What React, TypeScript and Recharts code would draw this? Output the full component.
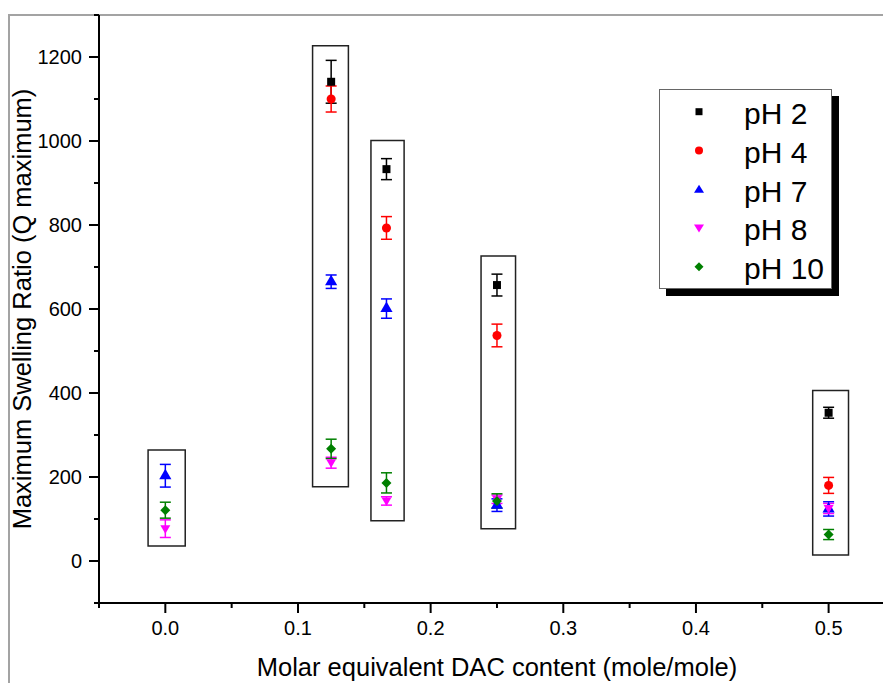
import React from 'react';
import { ScatterChart, Scatter, XAxis, YAxis, ZAxis, ErrorBar, ReferenceArea, Legend, Label } from 'recharts';

// DAC content (mole/mole) for each group of measurements
const xFull = [0, 0.125, 0.1667, 0.25, 0.5];
const xNoZero = [0.125, 0.1667, 0.25, 0.5];

const ph2Values = [1141, 933, 657, 353];
const ph2Errors = [51, 25, 26, 13];
const ph4Values = [1100, 793, 537, 180];
const ph4Errors = [31, 27, 27, 19];
const ph7Values = [203, 665, 601, 133, 124];
const ph7Errors = [27, 16, 23, 15, 17];
const ph8Values = [77, 234, 143, 147, 125];
const ph8Errors = [21, 13, 10, 10, 12];
const ph10Values = [121, 267, 186, 143, 63];
const ph10Errors = [19, 23, 24, 17, 12];

// boxes drawn round each group
const boxX1 = [-0.013, 0.111, 0.155, 0.238, 0.488];
const boxX2 = [0.015, 0.138, 0.18, 0.264, 0.515];
const boxY1 = [36, 177, 96, 77, 14];
const boxY2 = [264, 1227, 1001, 726, 406];

const xTicks = [-0.05, 0, 0.05, 0.1, 0.15, 0.2, 0.25, 0.3, 0.35, 0.4, 0.45, 0.5];
const yTicks = [-100, 0, 100, 200, 300, 400, 500, 600, 700, 800, 900, 1000, 1100, 1200, 1300];

const FONT = '"Liberation Sans", Arial, sans-serif';

const toRows = (xs: number[], ys: number[], errs: number[]) =>
  xs.map((x, i) => ({ x, y: ys[i], err: errs[i] }));

const downTriangle = (props: any) => {
  const { cx, cy, fill } = props;
  return <path d={`M${cx - 5},${cy - 3.5}L${cx + 5},${cy - 3.5}L${cx},${cy + 5}Z`} fill={fill} />;
};

const diamond = (props: any) => {
  const { cx, cy, fill } = props;
  return <path d={`M${cx},${cy - 5}L${cx + 5},${cy}L${cx},${cy + 5}L${cx - 5},${cy}Z`} fill={fill} />;
};

const series = [
  { name: 'pH 2', color: '#000000', shape: 'square', data: toRows(xNoZero, ph2Values, ph2Errors) },
  { name: 'pH 4', color: '#ff0000', shape: 'circle', data: toRows(xNoZero, ph4Values, ph4Errors) },
  { name: 'pH 7', color: '#0000ff', shape: 'triangle', data: toRows(xFull, ph7Values, ph7Errors) },
  { name: 'pH 8', color: '#ff00ff', shape: downTriangle, data: toRows(xFull, ph8Values, ph8Errors) },
  { name: 'pH 10', color: '#008000', shape: diamond, data: toRows(xFull, ph10Values, ph10Errors) },
];

const XTick = (props: any) => {
  const { x, y, payload } = props;
  const v = payload.value;
  const major = Math.abs(v * 10 - Math.round(v * 10)) < 1e-6;
  return (
    <g>
      <line x1={x} x2={x} y1={y} y2={y + (major ? 10 : 5)} stroke="#000" strokeWidth={2} />
      {major && (
        <text x={x} y={y + 32} textAnchor="middle" fontSize={20} fontFamily={FONT} fill="#000" stroke="none">
          {v.toFixed(1)}
        </text>
      )}
    </g>
  );
};

const YTick = (props: any) => {
  const { x, y, payload } = props;
  const v = payload.value;
  const major = v % 200 === 0;
  return (
    <g>
      <line x1={x} x2={x - (major ? 10 : 5)} y1={y} y2={y} stroke="#000" strokeWidth={2} />
      {major && (
        <text x={x - 17} y={y + 7} textAnchor="end" fontSize={20} fontFamily={FONT} fill="#000" stroke="none">
          {v}
        </text>
      )}
    </g>
  );
};

const YTitle = (props: any) => {
  const { viewBox } = props;
  const cx = 30.5;
  const cy = viewBox.y + viewBox.height / 2;
  return (
    <text x={cx} y={cy} transform={`rotate(-90 ${cx} ${cy})`} textAnchor="middle" fontSize={25.5} fontFamily={FONT} fill="#000" stroke="none">
      Maximum Swelling Ratio (Q maximum)
    </text>
  );
};

const XTitle = (props: any) => {
  const { viewBox } = props;
  const cx = viewBox.x + viewBox.width / 2 + 6;
  return (
    <text x={cx} y={676} textAnchor="middle" fontSize={25.5} fontFamily={FONT} fill="#000" stroke="none">
      Molar equivalent DAC content (mole/mole)
    </text>
  );
};

const legendMarker = (i: number, x: number, y: number, color: string) => {
  if (i === 0) return <rect x={x - 3.5} y={y - 3.5} width={7} height={7} fill={color} />;
  if (i === 1) return <circle cx={x} cy={y} r={4} fill={color} />;
  if (i === 2) return <path d={`M${x},${y - 4.5}L${x + 5},${y + 3.5}L${x - 5},${y + 3.5}Z`} fill={color} />;
  if (i === 3) return <path d={`M${x - 5},${y - 3.5}L${x + 5},${y - 3.5}L${x},${y + 4.5}Z`} fill={color} />;
  return <path d={`M${x},${y - 4.5}L${x + 4.5},${y}L${x},${y + 4.5}L${x - 4.5},${y}Z`} fill={color} />;
};

const renderLegend = () => (
  <div
    style={{
      width: 173,
      height: 200,
      boxSizing: 'border-box',
      border: '1px solid #666',
      background: '#fff',
      boxShadow: '7px 7px 0 #000',
    }}
  >
    <svg width={171} height={198} style={{ display: 'block' }}>
      {series.map((s, i) => (
        <g key={s.name}>
          {legendMarker(i, 39, 21.7 + i * 38.75, s.color)}
          <text x={84} y={34 + i * 38.75} fontSize={30} fontFamily={FONT} fill="#000">
            {s.name}
          </text>
        </g>
      ))}
    </svg>
  </div>
);

export default function App() {
  return (
    <div style={{ position: 'absolute', left: 0, top: 0, width: 883, height: 683, background: '#fff', fontFamily: FONT }}>
      <div style={{ position: 'absolute', left: 9, top: 14, width: 874, height: 2, background: '#a3a3a3' }} />
      <div style={{ position: 'absolute', left: 8, top: 14, width: 2, height: 669, background: '#a3a3a3' }} />
      <div style={{ position: 'absolute', left: 0, top: 0 }}>
        <ScatterChart width={883} height={683} margin={{ top: 15, right: 0, bottom: 0, left: 0 }}>
          <XAxis
            type="number"
            dataKey="x"
            domain={[-0.05, 0.541]}
            ticks={xTicks}
            interval={0}
            allowDataOverflow
            height={80}
            tickSize={0}
            tickMargin={0}
            tickLine={false}
            tick={<XTick />}
            stroke="#000"
            strokeWidth={2}
            axisLine={{ stroke: '#000', strokeWidth: 2 }}
          >
            <Label content={<XTitle />} />
          </XAxis>
          <YAxis
            type="number"
            dataKey="y"
            domain={[-100, 1300]}
            ticks={yTicks}
            interval={0}
            allowDataOverflow
            width={99}
            tickSize={0}
            tickMargin={0}
            tickLine={false}
            tick={<YTick />}
            stroke="#000"
            strokeWidth={2}
            axisLine={{ stroke: '#000', strokeWidth: 2 }}
          >
            <Label content={<YTitle />} />
          </YAxis>
          <ZAxis range={[50, 50]} />
          {boxX1.map((x1, i) => (
            <ReferenceArea
              key={i}
              x1={x1}
              x2={boxX2[i]}
              y1={boxY1[i]}
              y2={boxY2[i]}
              fill="none"
              stroke="#222"
              strokeWidth={1.5}
              ifOverflow="visible"
            />
          ))}
          {series.map((s) => (
            <Scatter key={s.name} name={s.name} data={s.data} fill={s.color} shape={s.shape as any} isAnimationActive={false}>
              <ErrorBar dataKey="err" direction="y" width={5.5} stroke={s.color} strokeWidth={1.5} />
            </Scatter>
          ))}
          <Legend
            layout="vertical"
            align="center"
            verticalAlign="middle"
            content={renderLegend}
            wrapperStyle={{ left: 659, top: 89, width: 173, height: 200 }}
          />
        </ScatterChart>
      </div>
    </div>
  );
}
